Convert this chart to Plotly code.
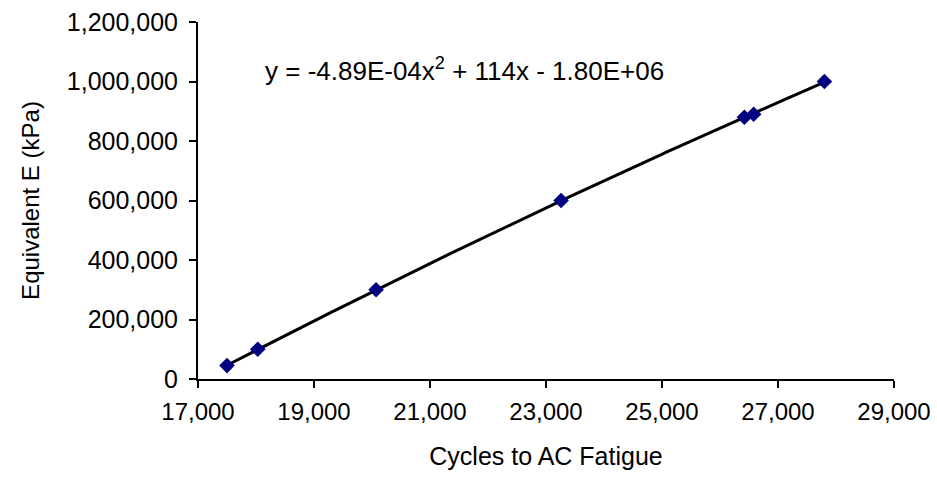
import numpy as np
import plotly.graph_objects as go

# Data
cycles = [17500, 18030, 20070, 23260, 26420, 26580, 27800]
modulus = [45000, 100000, 300000, 600000, 880000, 890000, 1000000]
x_ticks = [17000, 19000, 21000, 23000, 25000, 27000, 29000]
y_ticks = [0, 200000, 400000, 600000, 800000, 1000000, 1200000]
equation_text = "y = -4.89E-04x<sup>2</sup> + 114x - 1.80E+06"

# Polynomial (order 2) trendline fitted to the data, as in the spreadsheet
coef = np.polyfit(cycles, modulus, 2)
xt = np.linspace(min(cycles), max(cycles), 200)
yt = np.polyval(coef, xt)

SANS = "Liberation Sans, Arial, sans-serif"

fig = go.Figure()
fig.add_trace(go.Scatter(
    x=xt, y=yt, mode="lines",
    line=dict(color="black", width=3),
    showlegend=False, hoverinfo="skip"))
fig.add_trace(go.Scatter(
    x=cycles, y=modulus, mode="markers",
    marker=dict(symbol="diamond", size=12, color="#000080"),
    showlegend=False, hoverinfo="skip"))

fig.add_annotation(
    x=0.094, y=0.866, xref="paper", yref="paper",
    xanchor="left", yanchor="middle",
    text=equation_text, showarrow=False,
    font=dict(family=SANS, size=26, color="black"))

axis_common = dict(
    showline=True, linecolor="black", linewidth=2,
    ticks="outside", ticklen=7, tickwidth=2, tickcolor="black",
    showgrid=False, zeroline=False, tickformat=",d", automargin=False,
)

fig.update_layout(
    width=937, height=495,
    margin=dict(l=198, r=43, t=22, b=116),
    paper_bgcolor="white", plot_bgcolor="white",
    xaxis=dict(range=[17000, 29000], tickvals=x_ticks,
               tickfont=dict(family=SANS, size=24, color="black"),
               ticklabelstandoff=3,
               title=dict(text="Cycles to AC Fatigue", standoff=24,
                          font=dict(family=SANS, size=25, color="black")),
               **axis_common),
    yaxis=dict(range=[0, 1200000], tickvals=y_ticks,
               tickfont=dict(family=SANS, size=25, color="black"),
               ticklabelstandoff=6,
               title=dict(text="Equivalent E (kPa)", standoff=20,
                          font=dict(family=SANS, size=24, color="black")),
               **axis_common),
)

fig.write_html("out.html")
